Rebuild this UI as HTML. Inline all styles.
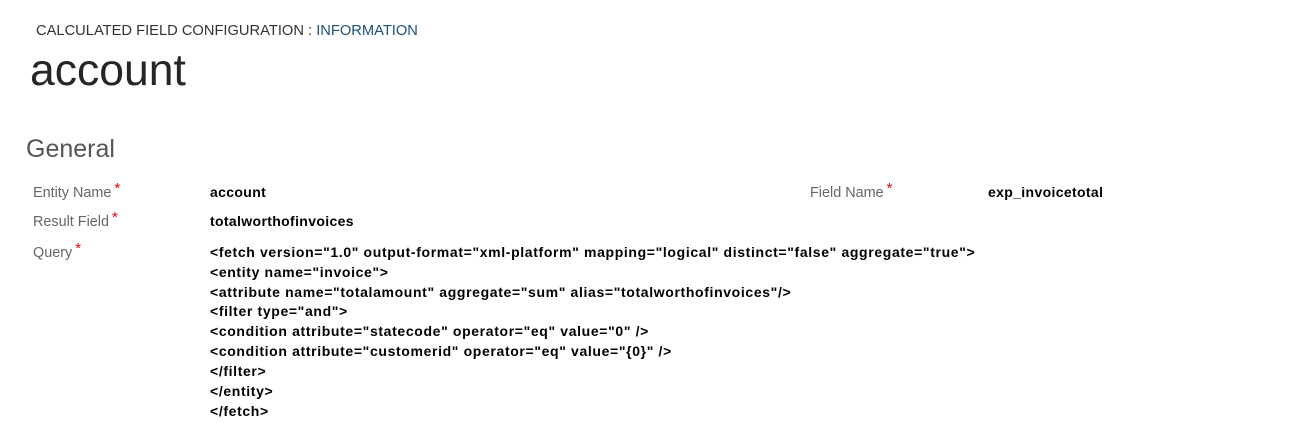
<html><head><style>
body{margin:0;width:1292px;height:446px;background:#fff;font-family:"Liberation Sans",sans-serif;position:relative;overflow:hidden}
div{position:absolute;white-space:nowrap}
.l{color:#666;font-size:14.4px}
.s{color:#e00;font-size:15px;position:relative;top:-4px;margin-left:3px}
.v{color:#000;font-weight:bold;font-size:14px;letter-spacing:0.35px}
.q{left:210px;font-weight:bold;font-size:14px;color:#000;letter-spacing:0.64px}
</style></head><body>
<div style="left:36px;top:23px;font-size:14.7px;color:#333">CALCULATED FIELD CONFIGURATION : <span style="color:#1f4f7a">INFORMATION</span></div>
<div style="left:30px;top:46px;font-size:44.5px;color:#262626">account</div>
<div style="left:26px;top:135px;font-size:25px;color:#555">General</div>
<div class="l" style="left:33px;top:184px">Entity Name<span class="s">*</span></div>
<div class="l" style="left:33px;top:213px">Result Field<span class="s">*</span></div>
<div class="l" style="left:33px;top:244px">Query<span class="s">*</span></div>
<div class="l" style="left:810px;top:184px">Field Name<span class="s">*</span></div>
<div class="v" style="left:210px;top:184px">account</div>
<div class="v" style="left:988px;top:184px">exp_invoicetotal</div>
<div class="v" style="left:210px;top:213px">totalworthofinvoices</div>
<div class="q" style="top:244px">&lt;fetch version="1.0" output-format="xml-platform" mapping="logical" distinct="false" aggregate="true"&gt;</div>
<div class="q" style="top:264px">&lt;entity name="invoice"&gt;</div>
<div class="q" style="top:284px">&lt;attribute name="totalamount" aggregate="sum" alias="totalworthofinvoices"/&gt;</div>
<div class="q" style="top:303px">&lt;filter type="and"&gt;</div>
<div class="q" style="top:323px">&lt;condition attribute="statecode" operator="eq" value="0" /&gt;</div>
<div class="q" style="top:343px">&lt;condition attribute="customerid" operator="eq" value="{0}" /&gt;</div>
<div class="q" style="top:363px">&lt;/filter&gt;</div>
<div class="q" style="top:383px">&lt;/entity&gt;</div>
<div class="q" style="top:403px">&lt;/fetch&gt;</div>
</body></html>
